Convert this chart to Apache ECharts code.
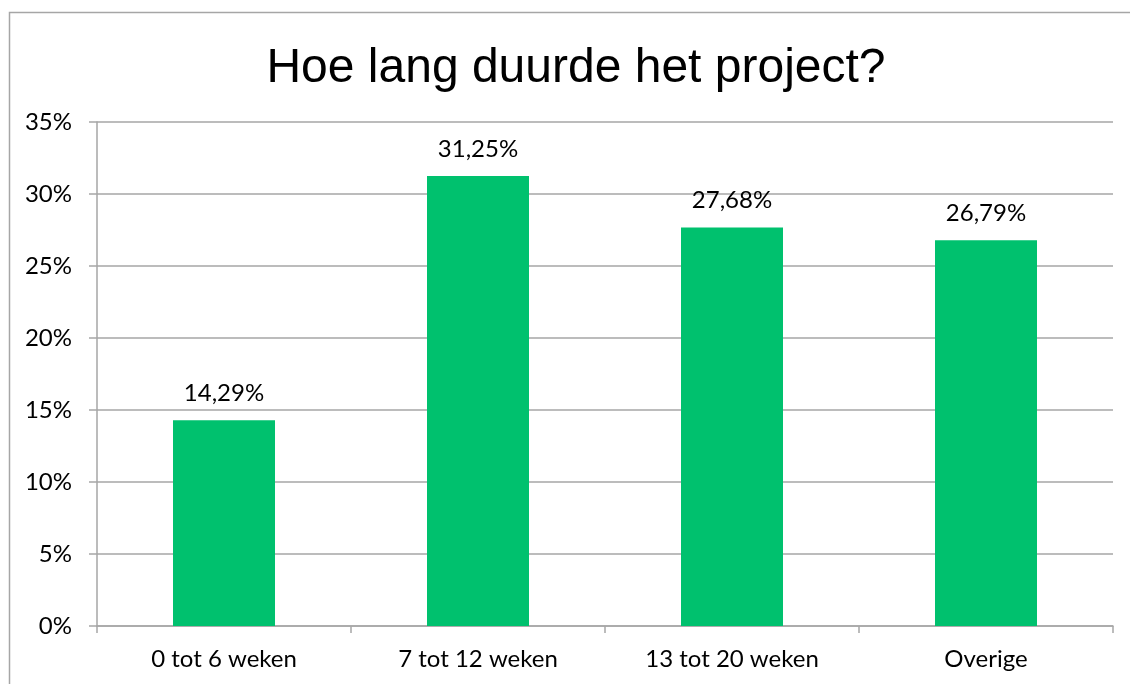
<!DOCTYPE html>
<html>
<head>
<meta charset="utf-8">
<script src="https://cdn.jsdelivr.net/npm/echarts@6/dist/echarts.min.js"></script>
<style>
  html, body { margin: 0; padding: 0; background: #fff; }
  #chart { width: 1130px; height: 684px; }
</style>
</head>
<body>
<div id="chart"></div>
<script>
// chart values
var categories = ['0 tot 6 weken', '7 tot 12 weken', '13 tot 20 weken', 'Overige']
var percentages = [14.29, 31.25, 27.68, 26.79]
var yTicks = [0, 5, 10, 15, 20, 25, 30, 35]

var chart = echarts.init(document.getElementById('chart'))
chart.setOption({
  animation: false,
  title: {
    text: 'Hoe lang duurde het project?',
    left: 571,
    textAlign: 'center',
    top: 40,
    textStyle: {
      fontFamily: 'Liberation Sans',
      fontSize: 48,
      fontWeight: 'normal',
      color: '#000'
    }
  },
  graphic: [{
    type: 'rect',
    shape: { x: 9.5, y: 12.5, width: 1200, height: 800 },
    style: { fill: 'none', stroke: '#a6a6a6', lineWidth: 1.5 },
    silent: true
  }],
  grid: {
    left: 97,
    right: 17,
    top: 122,
    bottom: 58
  },
  xAxis: {
    type: 'category',
    data: categories,
    axisLine: { lineStyle: { color: '#a6a6a6', width: 1.5 } },
    axisTick: { show: true, length: 7, lineStyle: { color: '#a6a6a6', width: 1.5 } },
    axisLabel: {
      color: '#000',
      fontFamily: 'Lato',
      fontSize: 24,
      margin: 21
    }
  },
  yAxis: {
    type: 'value',
    min: yTicks[0],
    max: yTicks[yTicks.length - 1],
    interval: 5,
    axisLine: { show: true, lineStyle: { color: '#a6a6a6', width: 1.5 } },
    axisTick: { show: true, length: 8, lineStyle: { color: '#a6a6a6', width: 1.5 } },
    splitLine: { lineStyle: { color: '#a6a6a6', width: 1.5 } },
    axisLabel: {
      color: '#000',
      fontFamily: 'Lato',
      fontSize: 24,
      margin: 25,
      formatter: function (v) { return v + '%' }
    }
  },
  series: [{
    type: 'bar',
    data: percentages,
    barWidth: 102,
    itemStyle: { color: '#00c16e' },
    label: {
      show: true,
      position: 'top',
      distance: 15,
      color: '#000',
      fontFamily: 'Lato',
      fontSize: 24,
      formatter: function (p) { return p.value.toFixed(2).replace('.', ',') + '%' }
    }
  }]
})
</script>
</body>
</html>
